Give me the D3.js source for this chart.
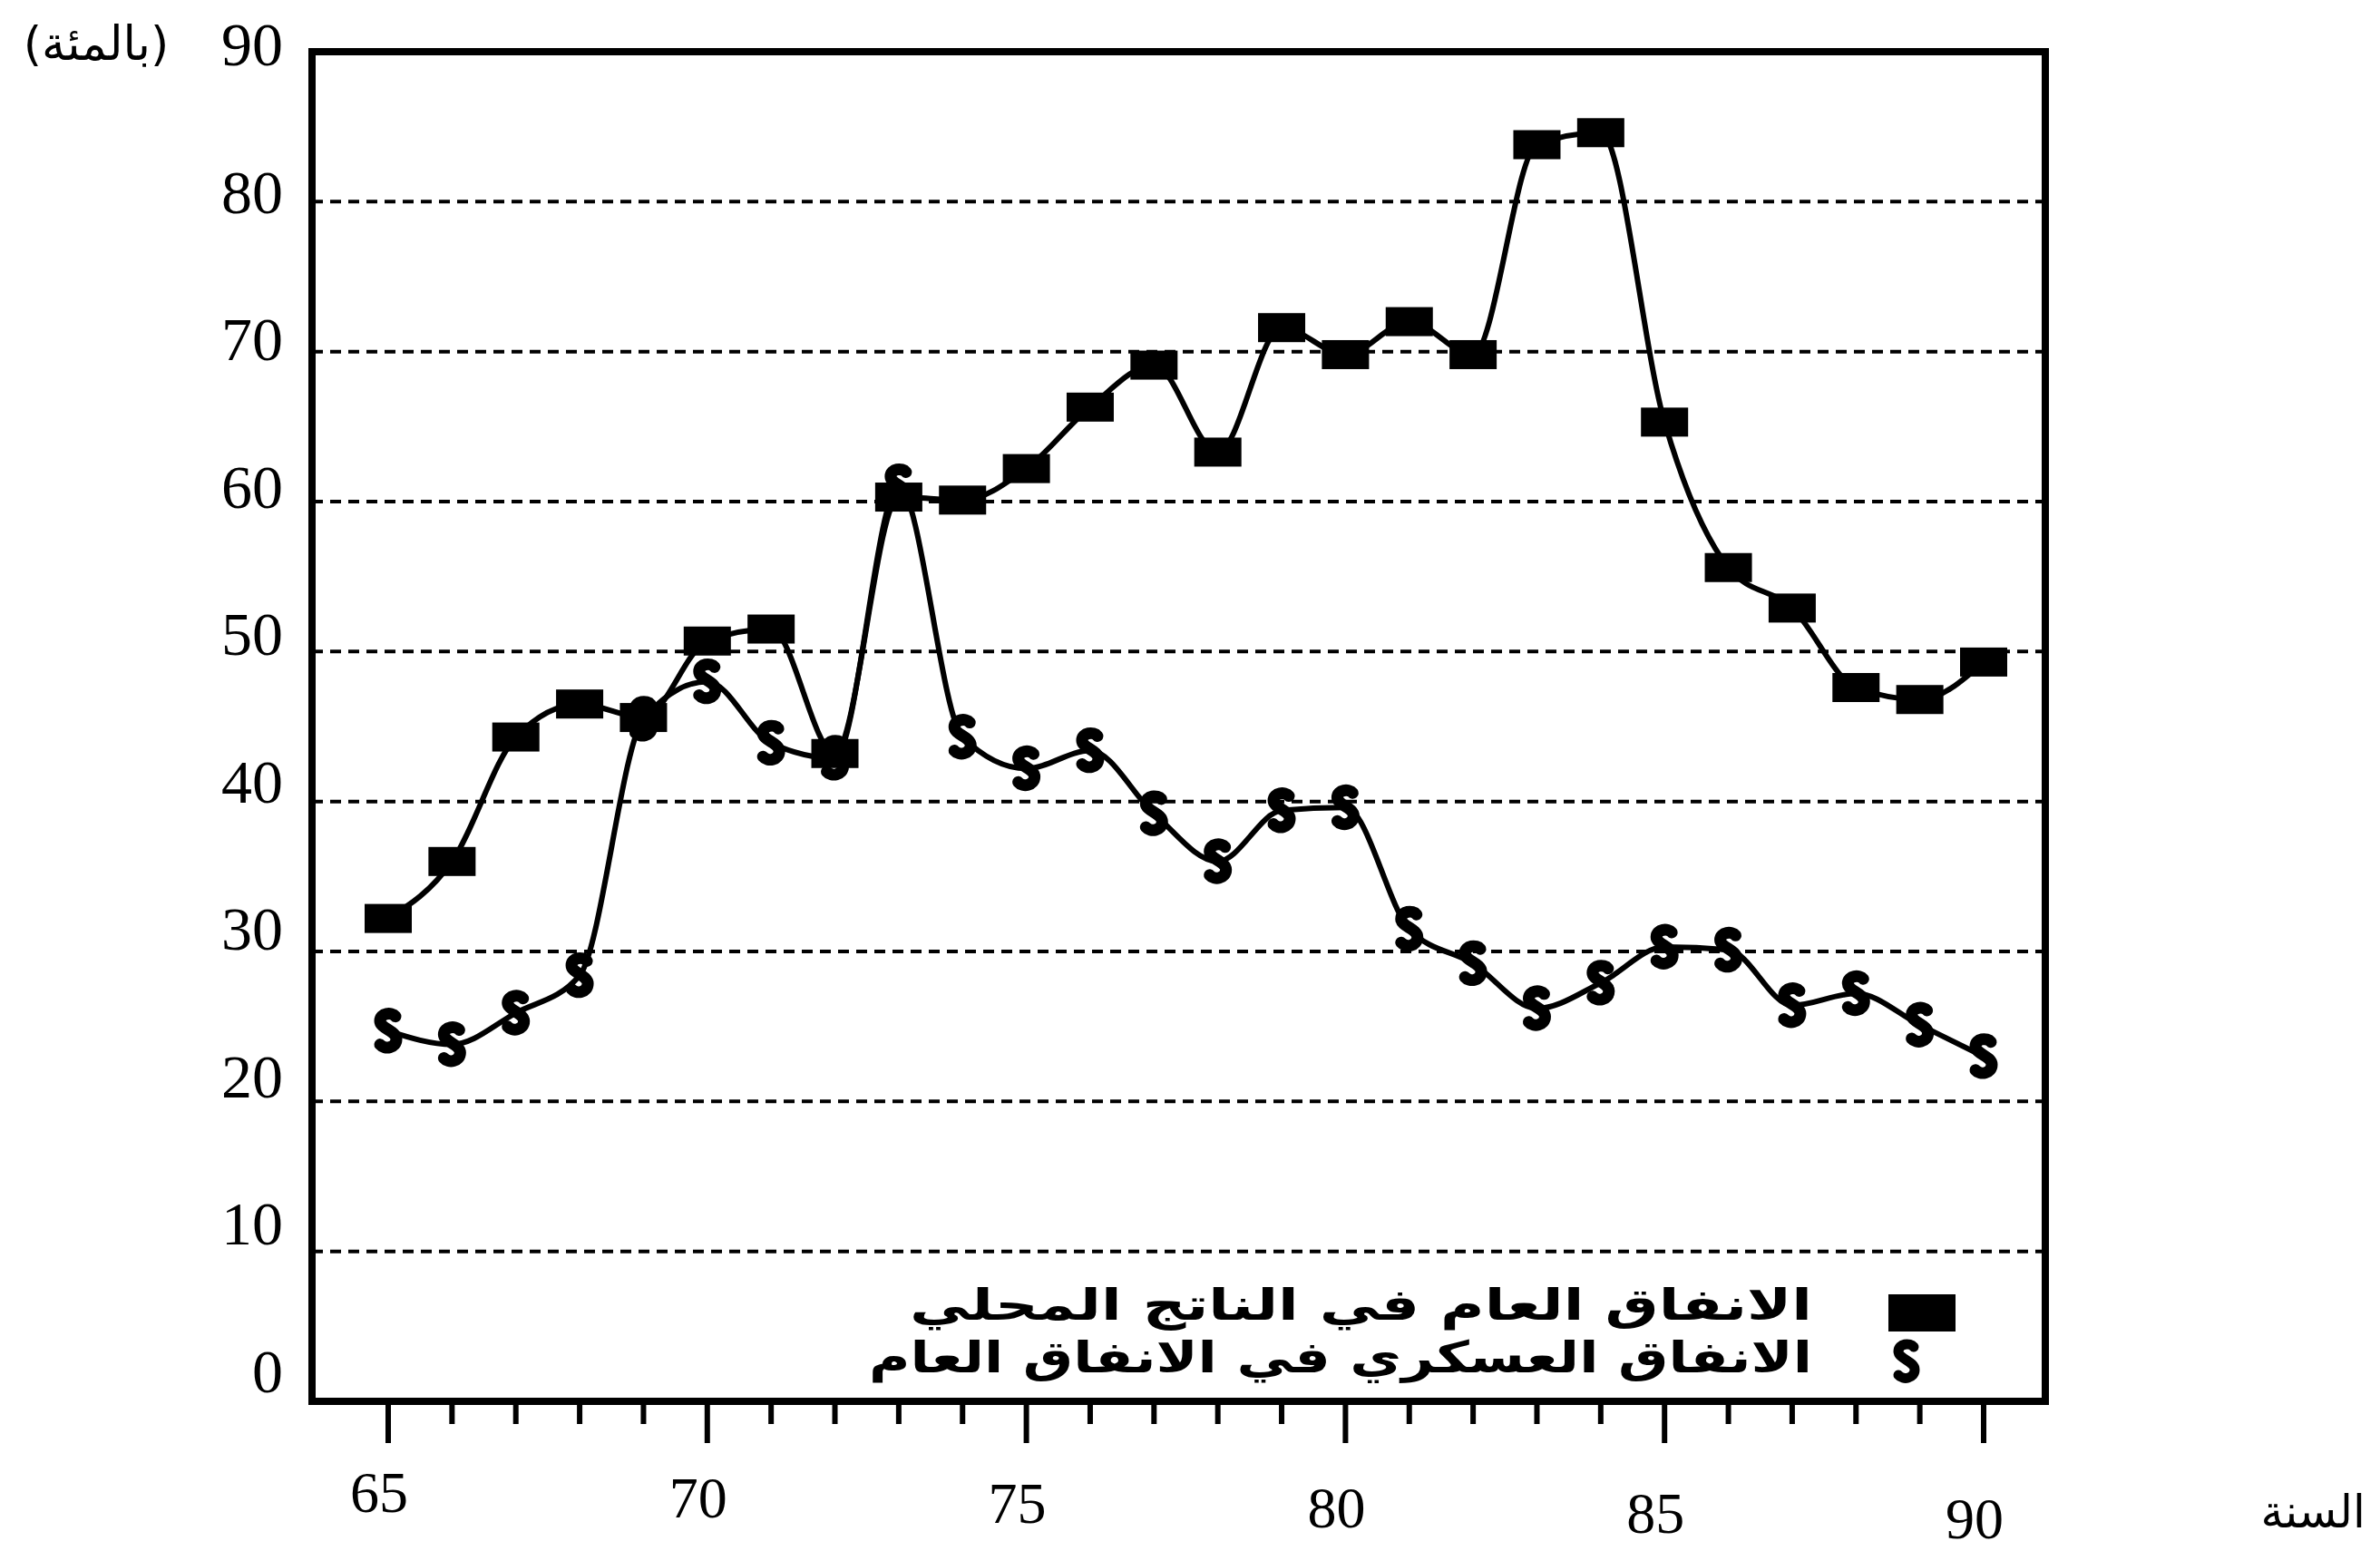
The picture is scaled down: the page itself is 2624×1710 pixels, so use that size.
<html>
<head>
    <meta charset="utf-8">
    <title>الانفاق العام والعسكري</title>
    <script src="https://d3js.org/d3.v7.min.js" charset="utf-8"></script>
    <style>
body {
    margin: 0;
    background: #fff;
}
svg {
    display: block;
}
.num {
    font-family: "Liberation Serif", "DejaVu Serif", serif;
    fill: #000;
}
.ar {
    font-family: "DejaVu Sans", sans-serif;
    fill: #000;
}
    </style>
</head>
<body>
    <script>
    // values (year = 19xx)
    var years = [65, 66, 67, 68, 69, 70, 71, 72, 73, 74, 75, 76, 77,
                 78, 79, 80, 81, 82, 83, 84, 85, 86, 87, 88, 89, 90];
    var publicSpending = [32.2, 36.0, 44.3, 46.5, 45.6, 50.7, 51.5, 43.2, 60.3, 60.1, 62.2, 66.3, 69.1,
                          63.3, 71.6, 69.8, 72.0, 69.8, 83.8, 84.6, 65.3, 55.6, 52.9, 47.6, 46.8, 49.3];
    var militarySpending = [24.7, 23.8, 25.9, 28.4, 45.5, 48.0, 43.9, 42.9, 61.0, 44.3, 42.2, 43.4, 39.2,
                            36.0, 39.4, 39.6, 31.5, 29.2, 26.2, 27.9, 30.3, 30.1, 26.4, 27.2, 25.1, 23.0];
    var yTicks = [0, 10, 20, 30, 40, 50, 60, 70, 80, 90];
    var xTickLabels = [65, 70, 75, 80, 85, 90];
    var legendLabels = ["الانفاق العام في الناتج المحلي", "الانفاق العسكري في الانفاق العام"];
    var unitLabel = "(بالمئة)";
    var xTitle = "السنة";

    var width = 2624;
    var height = 1710;

    var frame = { left: 344, top: 57, right: 2255, bottom: 1545 };

    var svg = d3.select("body")
        .append("svg")
        .attr("width", width)
        .attr("height", height);

    var x = d3.scaleLinear()
        .domain([65, 90])
        .range([428, 2187]);

    var y = d3.scaleLinear()
        .domain([0, 90])
        .range([frame.bottom, frame.top]);

    // the scanned labels drift a little against the grid
    var yLabelBase = d3.scaleLinear()
        .domain([0, 90])
        .range([1535, 72]);
    var xLabelBase = d3.scaleLinear()
        .domain([65, 90])
        .range([1667, 1696]);

    // dashed gridlines
    svg.append("g")
        .selectAll("line")
        .data(yTicks.filter(function(d) { return d > 0 && d < 90; }))
        .enter()
        .append("line")
        .attr("x1", frame.left)
        .attr("x2", frame.right)
        .attr("y1", function(d) { return y(d); })
        .attr("y2", function(d) { return y(d); })
        .attr("stroke", "#000")
        .attr("stroke-width", 4)
        .attr("stroke-dasharray", "12,8");

    // y labels
    svg.append("g")
        .selectAll("text")
        .data(yTicks)
        .enter()
        .append("text")
        .attr("class", "num")
        .attr("x", 312)
        .attr("y", function(d) { return yLabelBase(d); })
        .attr("text-anchor", "end")
        .attr("font-size", 68)
        .text(function(d) { return d; });

    svg.append("text")
        .attr("class", "ar")
        .attr("x", 106)
        .attr("y", 66)
        .attr("text-anchor", "middle")
        .attr("font-size", 52)
        .text(unitLabel);

    // x ticks, every year, longer every five
    svg.append("g")
        .selectAll("line")
        .data(years)
        .enter()
        .append("line")
        .attr("x1", function(d) { return x(d); })
        .attr("x2", function(d) { return x(d); })
        .attr("y1", frame.bottom)
        .attr("y2", function(d) { return frame.bottom + (d % 5 == 0 ? 46 : 25); })
        .attr("stroke", "#000")
        .attr("stroke-width", 6);

    svg.append("g")
        .selectAll("text")
        .data(xTickLabels)
        .enter()
        .append("text")
        .attr("class", "num")
        .attr("x", function(d) { return x(d) - 10; })
        .attr("y", function(d) { return xLabelBase(d); })
        .attr("text-anchor", "middle")
        .attr("font-size", 64)
        .text(function(d) { return d; });

    svg.append("text")
        .attr("class", "ar")
        .attr("x", 2608)
        .attr("y", 1684)
        .attr("text-anchor", "end")
        .attr("font-size", 50)
        .text(xTitle);

    // frame
    svg.append("rect")
        .attr("x", frame.left)
        .attr("y", frame.top)
        .attr("width", frame.right - frame.left)
        .attr("height", frame.bottom - frame.top)
        .attr("fill", "none")
        .attr("stroke", "#000")
        .attr("stroke-width", 8);

    var line = d3.line()
        .x(function(d, i) { return x(years[i]); })
        .y(function(d) { return y(d); })
        .curve(d3.curveMonotoneX);

    svg.append("path")
        .datum(publicSpending)
        .attr("d", line)
        .attr("fill", "none")
        .attr("stroke", "#000")
        .attr("stroke-width", 6);

    svg.append("path")
        .datum(militarySpending)
        .attr("d", line)
        .attr("fill", "none")
        .attr("stroke", "#000")
        .attr("stroke-width", 6);

    var sShape = "M8,-16 C4,-21 -9,-20 -9,-11 C-9,-3 9,0 9,9 C9,19 -4,21 -9,15";

    svg.append("g")
        .selectAll("path")
        .data(militarySpending)
        .enter()
        .append("path")
        .attr("d", sShape)
        .attr("transform", function(d, i) { return "translate(" + x(years[i]) + "," + y(d) + ")"; })
        .attr("fill", "none")
        .attr("stroke", "#000")
        .attr("stroke-width", 13)
        .attr("stroke-linecap", "round")
        .attr("stroke-linejoin", "round");

    svg.append("g")
        .selectAll("rect")
        .data(publicSpending)
        .enter()
        .append("rect")
        .attr("x", function(d, i) { return x(years[i]) - 26; })
        .attr("y", function(d) { return y(d) - 16; })
        .attr("width", 52)
        .attr("height", 32)
        .attr("fill", "#000");

    // legend
    var legend = svg.append("g");

    legend.append("rect")
        .attr("x", 2082)
        .attr("y", 1427)
        .attr("width", 74)
        .attr("height", 41)
        .attr("fill", "#000");

    legend.append("path")
        .attr("d", sShape)
        .attr("transform", "translate(2102,1501)")
        .attr("fill", "none")
        .attr("stroke", "#000")
        .attr("stroke-width", 11)
        .attr("stroke-linecap", "round");

    legend.selectAll("text")
        .data(legendLabels)
        .enter()
        .append("text")
        .attr("class", "ar")
        .attr("x", 1998)
        .attr("y", function(d, i) { return 1442 + i * 58; })
        .attr("text-anchor", "end")
        .attr("dominant-baseline", "middle")
        .attr("font-size", 48)
        .attr("font-weight", "bold")
        .attr("textLength", function(d, i) { return i == 0 ? 995 : 1040; })
        .attr("lengthAdjust", "spacingAndGlyphs")
        .text(function(d) { return d; });
    </script>
</body>
</html>
